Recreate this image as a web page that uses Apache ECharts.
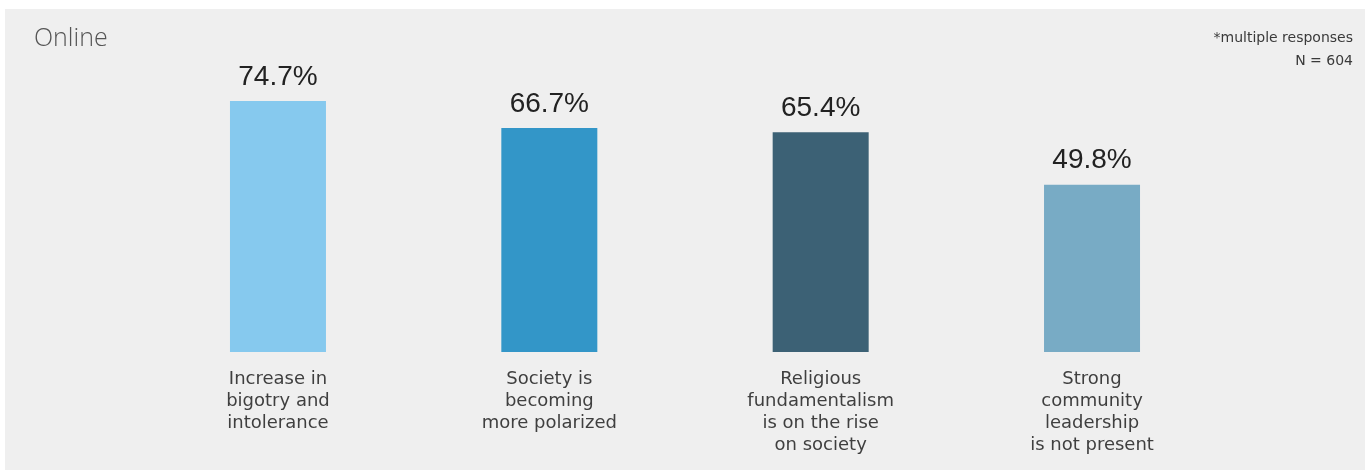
<!DOCTYPE html>
<html><head><meta charset="utf-8">
<style>html,body{margin:0;padding:0;background:#fff;}#c{width:1367px;height:470px;}</style>
<script src="https://cdn.jsdelivr.net/npm/echarts@6/dist/echarts.min.js"></script>
</head><body><div id="c"></div>
<script>
const categories = ["Increase in\nbigotry and\nintolerance", "Society is\nbecoming\nmore polarized", "Religious\nfundamentalism\nis on the rise\non society", "Strong\ncommunity\nleadership\nis not present"];
const values = [74.7, 66.7, 65.4, 49.8];
const colors = ["#86c9ee", "#3396c8", "#3c6175", "#78abc5"];
const title = "Online";
const notes = ["*multiple responses", "N = 604"];

const chart = echarts.init(document.getElementById('c'), null, {renderer: 'canvas'});
chart.setOption({
  animation: false,
  backgroundColor: '#ffffff',
  graphic: [
    {type: 'rect', z: -10, shape: {x: 5, y: 9, width: 1360, height: 461}, style: {fill: '#efefef'}},
    {type: 'text', left: 34, top: 26, style: {text: title, font: '300 25px "Open Sans", sans-serif', fill: '#555'}},
    {type: 'text', right: 14, top: 31, style: {text: notes[0], font: '14px "DejaVu Sans", sans-serif', fill: '#3a3a3a'}},
    {type: 'text', right: 14, top: 54, style: {text: notes[1], font: '14px "DejaVu Sans", sans-serif', fill: '#3a3a3a'}}
  ],
  grid: {left: 142.3, right: 139.3, top: 16, bottom: 118},
  xAxis: {
    type: 'category', data: categories,
    axisLine: {show: false}, axisTick: {show: false},
    axisLabel: {interval: 0, margin: 16, color: '#3f3f3f', fontSize: 18, lineHeight: 22, fontFamily: '"DejaVu Sans", sans-serif', align: 'center', verticalAlign: 'top'}
  },
  yAxis: {type: 'value', min: 0, max: 100, show: false, splitLine: {show: false}},
  series: [{
    type: 'bar', barWidth: 96,
    data: values.map((v, i) => ({value: v, itemStyle: {color: colors[i]}})),
    label: {show: true, position: 'top', distance: 10, formatter: p => p.value.toFixed(1) + '%', color: '#222', fontSize: 28, fontFamily: '"Liberation Sans", Arial, sans-serif'}
  }]
});
</script></body></html>
